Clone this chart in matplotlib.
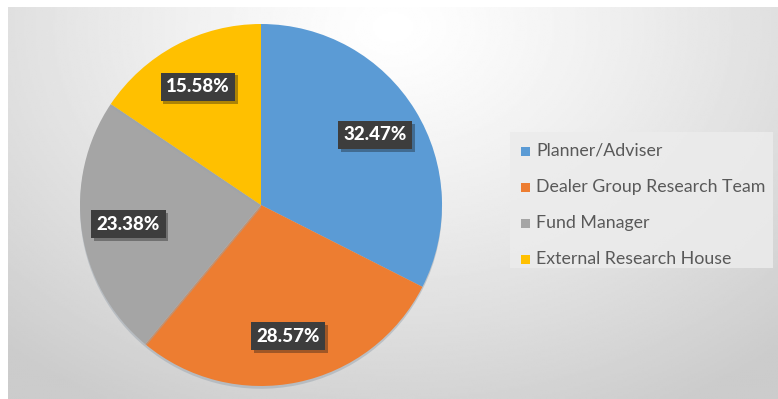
import numpy as np
import matplotlib
matplotlib.use("Agg")
import matplotlib.pyplot as plt
import matplotlib.patheffects as pe
from matplotlib.patches import Rectangle

# ---------------------------------------------------------------------------
# Data
# ---------------------------------------------------------------------------
SOURCES = ["Planner/Adviser", "Dealer Group Research Team",
           "Fund Manager", "External Research House"]
SHARES  = [32.47, 28.57, 23.38, 15.58]
COLORS  = ["#5B9BD5", "#ED7D31", "#A5A5A5", "#FFC000"]

W, H, DPI = 778, 399, 100
FONT = "Lato"

fig = plt.figure(figsize=(W / DPI, H / DPI), dpi=DPI)
fig.patch.set_facecolor("white")

# radial grey background, brightest near the top middle
bg = fig.add_axes([8 / W, 0, 1 - 8 / W, 1 - 7 / H])
bg.set_axis_off()
yy, xx = np.mgrid[0:1:200j, 0:1:400j]
dist = np.sqrt(((xx - 0.5) / 0.75) ** 2 + ((yy - 0.05) / 1.1) ** 2)
shade = 1.0 - 0.2 * np.clip(dist, 0, 1) ** 1.2
bg.imshow(shade, cmap="gray", vmin=0, vmax=1, aspect="auto",
          extent=[0, 1, 1, 0], interpolation="bilinear")

# pie
cx, cy, r = 261, 205, 181
ax = fig.add_axes([(cx - r) / W, 1 - (cy + r) / H, 2 * r / W, 2 * r / H])
ax.set_axis_off()
wedges, _, autotexts = ax.pie(
    SHARES, colors=COLORS, startangle=90, counterclock=False,
    autopct="%.2f%%", pctdistance=0.74, radius=1.0,
    wedgeprops=dict(linewidth=0),
    textprops=dict(color="white", fontsize=13.5, fontweight="black",
                   family=FONT),
)
for w in wedges:
    w.set_path_effects([pe.SimplePatchShadow(offset=(0, -2), shadow_rgbFace="#9aa4ae",
                                             alpha=0.5), pe.Normal()])
for t in autotexts:
    t.set_bbox(dict(boxstyle="square,pad=0.3", facecolor="#3d3d3d",
                    edgecolor="none"))
    t.get_bbox_patch().set_path_effects(
        [pe.SimplePatchShadow(offset=(2, -2), alpha=0.35), pe.Normal()])
ax.set_xlim(-1, 1)
ax.set_ylim(-1, 1)

# legend panel
leg_ax = fig.add_axes([0, 0, 1, 1], facecolor="none")
leg_ax.set_xlim(0, W)
leg_ax.set_ylim(H, 0)
leg_ax.set_axis_off()
leg_ax.add_patch(Rectangle((510, 132), 263, 136, facecolor="#ececec",
                           edgecolor="none", alpha=0.85))
for i, (name, col) in enumerate(zip(SOURCES, COLORS)):
    y = 151 + i * 36
    leg_ax.add_patch(Rectangle((521, y - 4.5), 9, 9, facecolor=col,
                               edgecolor="none"))
    leg_ax.text(536, y, name, fontsize=12.8, color="#595959", family=FONT,
                va="center", ha="left")

fig.savefig("out.png", dpi=DPI)
